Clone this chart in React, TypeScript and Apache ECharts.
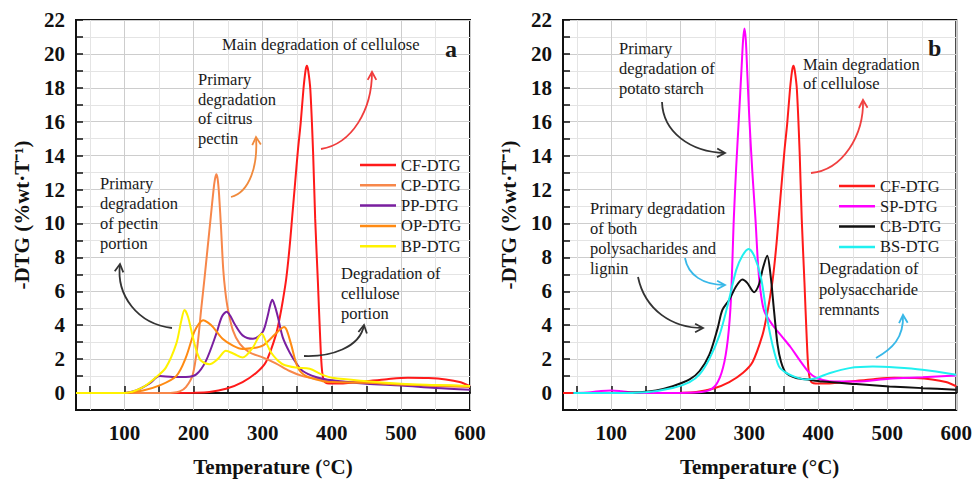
import React, { useEffect, useRef } from "react";
import * as echarts from "echarts";

const FONT = '"Liberation Serif", "Times New Roman", serif';

// ---- Data: [Temperature (°C), -DTG (%wt·T⁻¹)] ----
const CF = [[30,0],[150,0],[200,0.02],[223,0.06],[247,0.25],[271,0.65],[291,1.2],[305,1.85],[319,3.4],[325,4.5],[329,5.4],[334,6.7],[339,8.6],[343,10.5],[347,12.4],[351,14.3],[355,15.9],[359,17.9],[362,19.0],[364,19.3],[366,19.0],[369,17.9],[373,14.2],[376,10.3],[380,6.5],[383,3.5],[386,1.3],[390,0.65],[400,0.56],[420,0.58],[450,0.7],[480,0.82],[510,0.9],[540,0.88],[565,0.8],[585,0.65],[600,0.4]];
const CP = [[30,0],[150,0],[170,0.02],[180,0.1],[189,0.35],[199,1.1],[206,2.9],[211,4.9],[216,6.8],[220,8.4],[225,10.4],[229,12.0],[231,12.6],[233,12.9],[235,12.6],[237,11.7],[240,9.6],[243,7.3],[246,6.0],[250,4.9],[257,3.7],[267,2.9],[281,2.4],[300,2.1],[319,1.75],[339,1.3],[358,1.0],[377,0.85],[400,0.7],[450,0.62],[500,0.5],[550,0.42],[600,0.35]];
const PP = [[30,0],[100,0],[117,0.15],[136,0.55],[151,1.0],[170,0.95],[189,0.95],[204,1.1],[218,1.9],[233,3.5],[241,4.5],[248,4.8],[254,4.5],[259,4.1],[271,3.4],[286,3.2],[300,3.6],[307,4.5],[311,5.2],[314,5.5],[318,5.1],[322,4.5],[329,3.3],[339,2.4],[348,1.8],[358,1.3],[377,0.95],[401,0.75],[450,0.55],[500,0.45],[550,0.3],[600,0.2]];
const OP = [[30,0],[100,0],[127,0.15],[151,0.45],[175,1.0],[189,2.1],[201,3.6],[208,4.1],[214,4.3],[221,4.15],[228,3.9],[242,3.2],[257,2.8],[271,2.6],[286,2.65],[300,2.8],[314,3.3],[324,3.7],[331,3.9],[335,3.7],[341,2.9],[351,1.5],[363,1.0],[387,0.7],[400,0.65],[450,0.6],[500,0.5],[550,0.45],[600,0.4]];
const BP = [[30,0],[100,0],[125,0.3],[146,0.94],[160,1.5],[175,2.9],[182,4.2],[187,4.9],[192,4.5],[199,3.3],[205,2.4],[211,1.9],[223,1.7],[235,2.0],[247,2.5],[259,2.3],[271,2.1],[286,2.7],[294,3.3],[299,3.5],[305,3.0],[312,2.4],[320,2.0],[329,1.7],[348,1.5],[368,1.43],[385,1.1],[401,0.9],[450,0.7],[500,0.55],[550,0.48],[600,0.42]];
const SP = [[45,0],[70,0.05],[85,0.12],[100,0.15],[115,0.1],[130,0.03],[150,0],[200,0],[237,0.1],[252,0.5],[262,1.5],[269,3.2],[273.5,5.6],[277.6,10.3],[281,13.3],[284.8,16.1],[289,19.3],[291,20.8],[293,21.5],[295,20.8],[297,19],[300.2,16.1],[304.5,13],[308.9,10.3],[313,7.4],[317,5.8],[322,4.8],[334,4.0],[348,3.3],[360,2.7],[372,2.0],[387,1.2],[397,0.9],[416,0.7],[455,0.68],[503,0.85],[551,0.93],[600,1.03]];
const CB = [[45,0],[100,0],[141,0.04],[165,0.15],[189,0.4],[213.5,0.8],[228,1.3],[242,2.25],[254,3.8],[261,4.9],[271,5.5],[281,6.3],[290,6.7],[297,6.5],[307,5.95],[314,6.4],[320,7.4],[326,8.1],[331,6.9],[336,4.8],[341,2.85],[346,1.85],[353,1.2],[367,0.9],[387,0.78],[406,0.68],[455,0.53],[503,0.39],[551,0.29],[600,0.2]];
const BS = [[45,0],[100,0],[150,0.05],[189,0.3],[213.5,0.65],[228,1.1],[242,2.0],[256.7,3.4],[268.8,5.2],[281,7.25],[290,8.1],[299,8.5],[307,8.1],[317,6.8],[326,4.4],[333.6,2.85],[343,1.57],[353,1.2],[367,0.94],[382,0.8],[397,0.88],[416,1.17],[445,1.47],[479,1.56],[513,1.5],[551,1.37],[600,1.08]];

const X_TICKS = [50,100,150,200,250,300,350,400,450,500,550,600];
const X_LABELS = [100,200,300,400,500,600];
const Y_TICKS = [0,1,2,3,4,5,6,7,8,9,10,11,12,13,14,15,16,17,18,19,20,21,22];
const Y_LABELS = [0,2,4,6,8,10,12,14,16,18,20,22];

const LEGEND_A = ["CF-DTG", "CP-DTG", "PP-DTG", "OP-DTG", "BP-DTG"];
const LEGEND_B = ["CF-DTG", "SP-DTG", "CB-DTG", "BS-DTG"];

const COLORS: Record<string, string> = {
  "CF-DTG": "#FF1A1A",
  "CP-DTG": "#F7874A",
  "PP-DTG": "#7A1FA0",
  "OP-DTG": "#FF8A12",
  "BP-DTG": "#FFF200",
  "SP-DTG": "#FF00FF",
  "CB-DTG": "#111111",
  "BS-DTG": "#20F0F0",
};

function txt(x: number, y: number, s: string, size = 16.5, bold = false) {
  return {
    type: "text",
    x,
    y,
    z: 20,
    style: {
      text: s,
      font: `${bold ? "bold " : ""}${size}px ${FONT}`,
      fill: "#1a1a1a",
      align: "left",
      verticalAlign: "middle",
      textAlign: "left",
      textVerticalAlign: "middle",
    },
  };
}

function arrow(p0: number[], c1: number[], c2: number[], p1: number[], color: string) {
  const ang = Math.atan2(p1[1] - c2[1], p1[0] - c2[0]);
  const L = 9, a = 0.5;
  const l = [p1[0] - L * Math.cos(ang - a), p1[1] - L * Math.sin(ang - a)];
  const r = [p1[0] - L * Math.cos(ang + a), p1[1] - L * Math.sin(ang + a)];
  return [
    {
      type: "bezierCurve",
      z: 20,
      shape: { x1: p0[0], y1: p0[1], cpx1: c1[0], cpy1: c1[1], cpx2: c2[0], cpy2: c2[1], x2: p1[0], y2: p1[1] },
      style: { stroke: color, lineWidth: 1.8 },
    },
    {
      type: "polyline",
      z: 20,
      shape: { points: [l, p1, r] },
      style: { stroke: color, lineWidth: 1.8 },
    },
  ];
}

function xAxis(gridIndex: number) {
  return {
    type: "value",
    gridIndex,
    min: 30,
    max: 600,
    name: "Temperature (°C)",
    nameLocation: "middle",
    nameGap: 46,
    nameTextStyle: { fontFamily: FONT, fontSize: 21, fontWeight: "bold", color: "#111" },
    axisLine: { show: true, lineStyle: { color: "#111", width: 2 } },
    axisTick: { show: true, inside: true, length: 7, customValues: X_TICKS, lineStyle: { color: "#111", width: 1.5 } },
    axisLabel: { customValues: X_LABELS, margin: 12, fontFamily: FONT, fontSize: 21, fontWeight: "bold", color: "#111" },
    splitLine: { show: true, lineStyle: { color: ["#e4e4e4", "#cdcdcd"], width: 1 } },
  };
}

function yAxis(gridIndex: number) {
  return {
    type: "value",
    gridIndex,
    min: -1,
    max: 22,
    interval: 1,
    name: "-DTG (%wt·T⁻¹)",
    nameLocation: "middle",
    nameGap: 44,
    nameTextStyle: { fontFamily: FONT, fontSize: 21, fontWeight: "bold", color: "#111" },
    axisLine: { show: true, lineStyle: { color: "#111", width: 2 } },
    axisTick: { show: true, inside: true, length: 7, customValues: Y_TICKS, lineStyle: { color: "#111", width: 1.5 } },
    axisLabel: { customValues: Y_LABELS, margin: 11, fontFamily: FONT, fontSize: 21, fontWeight: "bold", color: "#111" },
    splitLine: { show: true, lineStyle: { color: ["#cdcdcd", "#e4e4e4"], width: 1 } },
  };
}

function line(name: string, data: number[][], idx: number) {
  return {
    type: "line",
    name,
    xAxisIndex: idx,
    yAxisIndex: idx,
    data,
    symbol: "none",
    showSymbol: false,
    smooth: 0.3,
    clip: true,
    color: COLORS[name],
    lineStyle: { color: COLORS[name], width: 2 },
  };
}

function legend(data: string[], left: number, top: number) {
  return {
    data: data.map((n) => ({ name: n, icon: "rect" })),
    orient: "vertical",
    left,
    top,
    itemWidth: 36,
    itemHeight: 2.5,
    itemGap: 0.3,
    selectedMode: false,
    textStyle: { fontFamily: FONT, fontSize: 16.5, color: "#1a1a1a", lineHeight: 20 },
  };
}

export default function App() {
  const ref = useRef<HTMLDivElement>(null);
  useEffect(() => {
    if (!ref.current) return;
    const chart = echarts.init(ref.current, null, { renderer: "svg" });
    const graphics: any[] = [
      // panel a
      txt(222, 44, "Main degradation of cellulose"),
      txt(445, 49, "a", 24, true),
      ...arrow([321, 149], [352, 144], [372, 110], [372, 72], "#F03C3C"),
      txt(198, 79, "Primary"),
      txt(198, 99, "degradation"),
      txt(198, 118, "of citrus"),
      txt(198, 138, "pectin"),
      ...arrow([231, 197], [250, 192], [258, 165], [256, 137], "#F08A3C"),
      txt(100, 183, "Primary"),
      txt(100, 203, "degradation"),
      txt(100, 223, "of pectin"),
      txt(100, 243, "portion"),
      ...arrow([172, 328], [138, 324], [116, 296], [120, 264], "#333"),
      txt(341, 273, "Degradation of"),
      txt(341, 293, "cellulose"),
      txt(341, 313, "portion"),
      ...arrow([304, 356], [330, 357], [360, 348], [364, 325], "#333"),
      // panel b
      txt(928, 48, "b", 24, true),
      txt(619, 48, "Primary"),
      txt(619, 68, "degradation of"),
      txt(619, 88, "potato starch"),
      ...arrow([662, 102], [663, 132], [690, 152], [725, 153], "#333"),
      txt(803, 64, "Main degradation"),
      txt(803, 83, "of cellulose"),
      ...arrow([811, 173], [843, 170], [864, 135], [863, 100], "#F04040"),
      txt(590, 208, "Primary degradation"),
      txt(590, 228, "of both"),
      txt(590, 248, "polysacharides and"),
      txt(590, 268, "lignin"),
      ...arrow([685, 258], [688, 275], [703, 285], [725, 285], "#38B8E8"),
      ...arrow([638, 277], [645, 310], [672, 328], [703, 328], "#333"),
      txt(819, 268, "Degradation of"),
      txt(819, 289, "polysaccharide"),
      txt(819, 309, "remnants"),
      ...arrow([876, 358], [892, 349], [904, 338], [903, 315], "#38B8E8"),
    ];
    chart.setOption({
      animation: false,
      backgroundColor: "#fff",
      grid: [
        { left: 76, top: 20, width: 394, height: 393, show: true, borderColor: "#111", borderWidth: 2, backgroundColor: "transparent" },
        { left: 563, top: 20, width: 394, height: 393, show: true, borderColor: "#111", borderWidth: 2, backgroundColor: "transparent" },
      ],
      xAxis: [xAxis(0), xAxis(1)],
      yAxis: [yAxis(0), yAxis(1)],
      legend: [legend(LEGEND_A, 355, 150), legend(LEGEND_B, 834, 171)],
      series: [
        line("CF-DTG", CF, 0),
        line("CP-DTG", CP, 0),
        line("PP-DTG", PP, 0),
        line("OP-DTG", OP, 0),
        line("BP-DTG", BP, 0),
        line("CF-DTG", CF, 1),
        line("SP-DTG", SP, 1),
        line("CB-DTG", CB, 1),
        line("BS-DTG", BS, 1),
      ],
      graphic: graphics,
    });
    return () => chart.dispose();
  }, []);
  return (
    <div
      ref={ref}
      style={{ position: "fixed", left: 0, top: 0, width: 975, height: 482, background: "#fff" }}
    />
  );
}
